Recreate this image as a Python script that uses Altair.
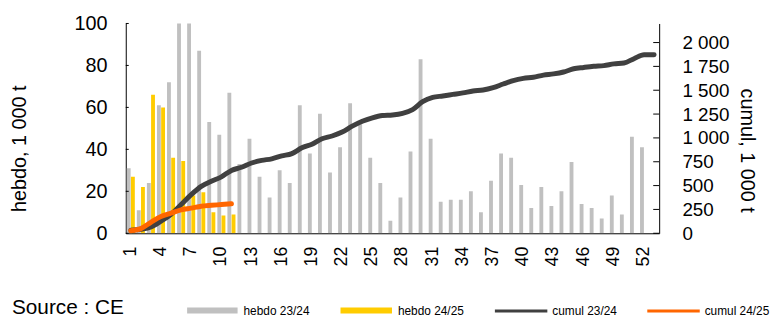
import altair as alt
import pandas as pd

# ---------------- data ----------------
weeks = list(range(1, 54))
x_labels = list(range(1, 53, 3))

hebdo_2324 = [31, 11, 24, 61, 72, 103, 103, 87, 53, 47,
              67, 33, 45, 27, 17, 30, 24, 61, 38, 57,
              29, 41, 62, 52, 36, 24, 6, 17, 39, 83,
              45, 15, 16, 16, 20, 10, 25, 38, 36, 23,
              12, 22, 13, 20, 34, 14, 12, 7, 18, 9,
              46, 41]
hebdo_2425 = [27, 22, 66, 60, 36, 34.5, 18, 19.5, 10, 8.5, 9]

cumul_2324 = [31, 42, 66, 127, 199, 302, 405, 492, 545, 592,
              659, 692, 737, 764, 781, 811, 835, 896, 934, 991,
              1020, 1061, 1123, 1175, 1211, 1235, 1241, 1258, 1297, 1380,
              1425, 1440, 1456, 1472, 1492, 1502, 1527, 1565, 1601, 1624,
              1636, 1658, 1671, 1691, 1725, 1739, 1751, 1758, 1776, 1785,
              1831, 1872, 1872]
cumul_2425 = [27, 49, 115, 175, 211, 245.5, 263.5, 283, 293, 301.5, 310.5]

left_ticks = [0, 20, 40, 60, 80, 100]
right_ticks = [0, 250, 500, 750, 1000, 1250, 1500, 1750, 2000]

series_names = ["hebdo 23/24", "hebdo 24/25", "cumul 23/24", "cumul 24/25"]
series_colors = ["#C0C0C0", "#FFCC00", "#404040", "#FF6600"]

FONT = "Liberation Sans"
W, H = 539, 212

# ---------------- tables ----------------
bars_df = pd.DataFrame({
    "week": weeks[:len(hebdo_2324)] + weeks[:len(hebdo_2425)],
    "val": hebdo_2324 + hebdo_2425,
    "serie": [series_names[0]] * len(hebdo_2324) + [series_names[1]] * len(hebdo_2425),
})
cum1_df = pd.DataFrame({"week": weeks[:len(cumul_2324)], "cum": cumul_2324})
cum2_df = pd.DataFrame({"week": weeks[:len(cumul_2425)], "cum": cumul_2425})

x_enc = alt.X(
    "week:O",
    scale=alt.Scale(domain=weeks, paddingInner=0.2, paddingOuter=0.1),
    axis=alt.Axis(values=x_labels, labelAngle=270, labelAlign="right",
                  labelBaseline="middle", labelPadding=13, ticks=False,
                  title=None, domainColor="black", labelFontSize=18,
                  labelFont=FONT, labelColor="black"),
)

y_left = alt.Y(
    "val:Q",
    scale=alt.Scale(domain=[0, 100], nice=False),
    axis=alt.Axis(values=left_ticks, ticks=False, labelPadding=19,
                  domainColor="black", labelFontSize=20, labelFont=FONT,
                  labelColor="black", title="hebdo, 1 000 t",
                  titleFontSize=20, titleFont=FONT, titleFontWeight="normal",
                  titleColor="black", titleAngle=270, titleX=-107, titleY=126,
                  titleAlign="center", titleBaseline="middle"),
)

y_right = alt.Y(
    "cum:Q",
    scale=alt.Scale(domain=[0, 2200], nice=False),
    axis=alt.Axis(orient="right", values=right_ticks, ticks=False,
                  labelPadding=23, domainColor="black", labelFontSize=19,
                  labelFont=FONT, labelColor="black", labelAlign="left",
                  labelExpr="replace(format(datum.value, ',d'), ',', ' ')",
                  title="cumul, 1 000 t", titleFontSize=20, titleFont=FONT,
                  titleFontWeight="normal", titleColor="black", titleAngle=90,
                  titleX=88, titleY=128, titleAlign="center",
                  titleBaseline="middle"),
)

bars = alt.Chart(bars_df).mark_bar(clip=True).encode(
    x=x_enc,
    xOffset=alt.XOffset("serie:N", sort=series_names[:2],
                        scale=alt.Scale(domain=series_names[:2], paddingInner=0.08)),
    y=y_left,
    color=alt.Color("serie:N", scale=alt.Scale(domain=series_names[:2],
                                               range=series_colors[:2]),
                    legend=None),
)

left_tick_marks = alt.Chart(pd.DataFrame({"val": left_ticks})).mark_rule(
    color="black", strokeWidth=1).encode(y=y_left, x=alt.value(0), x2=alt.value(3))

# legend (manual)
one = pd.DataFrame({"a": [0]})
legend_layers = [
    alt.Chart(one).mark_text(text="Source : CE", align="left", baseline="middle",
                             fontSize=21, font=FONT, color="black").encode(
        x=alt.value(-115), y=alt.value(288)),
    alt.Chart(one).mark_rect(color=series_colors[0]).encode(
        x=alt.value(62), x2=alt.value(113), y=alt.value(287), y2=alt.value(293)),
    alt.Chart(one).mark_rect(color=series_colors[1]).encode(
        x=alt.value(217), x2=alt.value(269), y=alt.value(287), y2=alt.value(293)),
    alt.Chart(one).mark_rule(color=series_colors[2], strokeWidth=3).encode(
        x=alt.value(373), x2=alt.value(426), y=alt.value(290.5)),
    alt.Chart(one).mark_rule(color=series_colors[3], strokeWidth=3).encode(
        x=alt.value(527), x2=alt.value(580), y=alt.value(290.5)),
]
for name, xpos in zip(series_names, [119, 275, 431, 585]):
    legend_layers.append(
        alt.Chart(one).mark_text(text=name, align="left", baseline="middle",
                                 fontSize=12, font=FONT, color="black").encode(
            x=alt.value(xpos), y=alt.value(290.5)))

left_group = alt.layer(bars, left_tick_marks, *legend_layers)

line1 = alt.Chart(cum1_df).mark_line(color=series_colors[2], strokeWidth=5,
                                     strokeCap="round", interpolate="monotone").encode(
    x=x_enc, y=y_right)
line2 = alt.Chart(cum2_df).mark_line(color=series_colors[3], strokeWidth=5,
                                     strokeCap="round", interpolate="monotone").encode(
    x=x_enc, y=y_right)
right_tick_marks = alt.Chart(pd.DataFrame({"cum": right_ticks})).mark_rule(
    color="black", strokeWidth=1).encode(y=y_right, x=alt.value(W - 6), x2=alt.value(W))

right_group = alt.layer(right_tick_marks, line1, line2)

chart = alt.layer(left_group, right_group).resolve_scale(
    y="independent"
).properties(
    width=W, height=H,
    autosize=alt.AutoSizeParams(type="none"),
    padding={"left": 119, "top": 14, "right": 112, "bottom": 86},
    background="white",
).configure_view(stroke=None).configure_axis(grid=False)

chart.save("out.html", embed_options={"renderer": "svg", "actions": False})
